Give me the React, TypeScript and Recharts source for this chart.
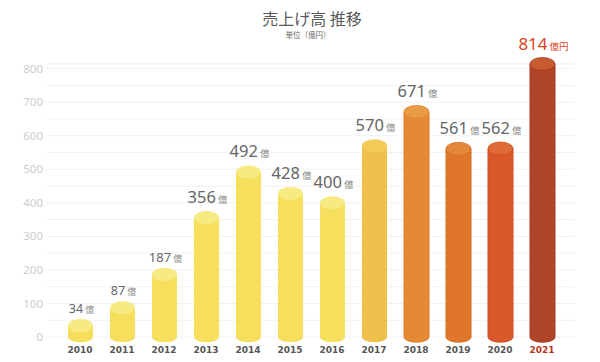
import React from 'react';
import { BarChart, Bar, XAxis, YAxis, CartesianGrid, LabelList } from 'recharts';

const years = ['2010', '2011', '2012', '2013', '2014', '2015', '2016', '2017', '2018', '2019', '2020', '2021'];
const sales = [34, 87, 187, 356, 492, 428, 400, 570, 671, 561, 562, 814];
const yTicks = [0, 50, 100, 150, 200, 250, 300, 350, 400, 450, 500, 550, 600, 650, 700, 750, 800];
const unitLabel = '億';
const lastUnitLabel = '億円';
const titleText = '売上げ高 推移';
const subtitleText = '単位（億円）';

const bodyColors = ['#f6df5c', '#f6df5c', '#f6df5c', '#f6df5c', '#f6df5c', '#f6df5c', '#f6df5c', '#f0c04c', '#e48a35', '#e0762b', '#d9582b', '#b0452a'];
const topColors = ['#f8ea82', '#f8ea82', '#f8ea82', '#f8ea82', '#f8ea82', '#f8ea82', '#f8ea82', '#f3cc58', '#e79c45', '#e3873a', '#de6b36', '#c75a31'];
const edgeColors = ['none', 'none', 'none', 'none', 'none', 'none', 'none', 'none', '#e07f28', '#d86c22', '#d14c20', '#a53a20'];
const labelSizes = [12.5, 12.5, 13, 16.5, 16.5, 16.5, 16.5, 16.5, 16.5, 16.5, 16.5, 17];

const data = years.map((y, i) => ({ year: y, value: sales[i] }));

const RY = 6.5;

const Cylinder = (props: any) => {
  const { x, y, width, height, payload } = props;
  const i = years.indexOf(payload.year);
  const rx = width / 2;
  const bottom = y + height;
  const d = `M ${x},${y} L ${x},${bottom} A ${rx} ${RY * 0.8} 0 0 0 ${x + width},${bottom} L ${x + width},${y} Z`;
  const edge = edgeColors[i];
  return (
    <g>
      <path d={d} fill={bodyColors[i]} stroke={edge} strokeWidth={edge === 'none' ? 0 : 1} />
      <ellipse cx={x + rx} cy={y} rx={rx} ry={RY} fill={topColors[i]} stroke={edge} strokeWidth={edge === 'none' ? 0 : 0.8} />
    </g>
  );
};

const renderLabel = (p: any) => {
  const { x, y, width, value } = p;
  const i = sales.indexOf(value);
  const last = i === sales.length - 1;
  const size = labelSizes[i];
  const cx = x + width / 2 + 1;
  const baseY = y - RY - (size > 14 ? 8 : 6);
  return (
    <text x={cx} y={baseY} textAnchor="middle" fontFamily="'Noto Sans', 'Noto Sans CJK JP', sans-serif">
      <tspan fontSize={size} fill={last ? '#d9441c' : '#666666'}>{value}</tspan>
      <tspan dx={2} fontSize={size > 14 ? 9.5 : 9} fill={last ? '#d9441c' : '#888888'} fontFamily="'Noto Sans CJK JP', sans-serif">
        {last ? lastUnitLabel : unitLabel}
      </tspan>
    </text>
  );
};

const renderXTick = (p: any) => {
  const { x, y, payload } = p;
  const last = payload.value === years[years.length - 1];
  return (
    <text x={x} y={y} dy="0.71em" textAnchor="middle" fontFamily="'DejaVu Sans', sans-serif" fontWeight="bold" fontSize={9} fill={last ? '#b5381c' : '#555555'}>
      {payload.value}
    </text>
  );
};

export default function App() {
  return (
    <div style={{ position: 'absolute', left: 0, top: 0, width: 600, height: 362, background: '#ffffff' }}>
      <div style={{ position: 'absolute', left: 212, top: 9, width: 200, textAlign: 'center', fontFamily: "'Noto Sans CJK JP', sans-serif", fontSize: 16, lineHeight: '18px', color: '#5a5a5a' }}>
        {titleText}
      </div>
      <div style={{ position: 'absolute', left: 208, top: 31, width: 200, textAlign: 'center', fontFamily: "'Noto Sans CJK JP', sans-serif", fontSize: 7.5, lineHeight: '8px', color: '#666666' }}>
        {subtitleText}
      </div>
      <BarChart width={600} height={362} data={data} margin={{ top: 64, right: 25, left: 0, bottom: 5 }}>
        <CartesianGrid vertical={false} stroke="#f0f0f0" />
        <XAxis
          dataKey="year"
          axisLine={false}
          tickLine={false}
          tickSize={0}
          tickMargin={10}
          height={20}
          padding={{ left: 12, right: 12 }}
          interval={0}
          tick={renderXTick}
        />
        <YAxis
          domain={[0, 800]}
          ticks={yTicks}
          interval={0}
          width={47}
          axisLine={false}
          tickLine={false}
          tickSize={0}
          tickMargin={4}
          tick={{ fill: '#cccccc', fontSize: 11.5, fontFamily: "'Noto Sans', sans-serif" }}
          tickFormatter={(v: number) => (v % 100 === 0 ? String(v) : '')}
        />
        <Bar dataKey="value" barSize={25} shape={Cylinder} isAnimationActive={false}>
          <LabelList dataKey="value" content={renderLabel} />
        </Bar>
      </BarChart>
    </div>
  );
}
